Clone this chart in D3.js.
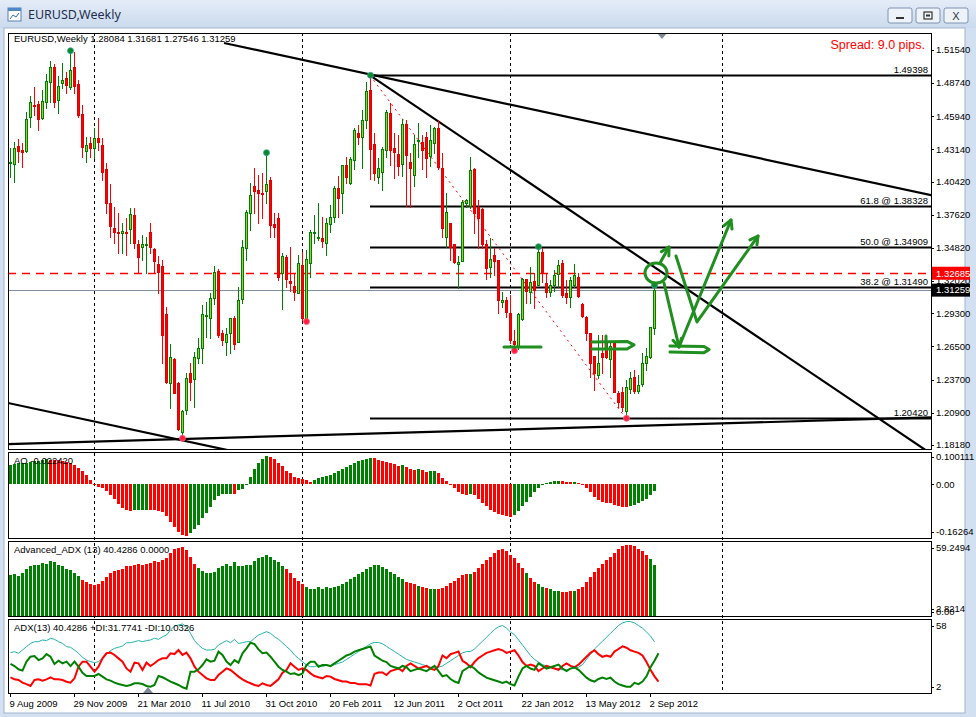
<!DOCTYPE html>
<html><head><meta charset="utf-8">
<script src="https://cdn.jsdelivr.net/npm/d3@7"></script>
<style>
body{margin:0;background:#fff;}
svg{display:block;}
text{font-family:"Liberation Sans",Arial,sans-serif;}
</style></head>
<body><svg id="c" width="976" height="717"></svg>
<script>
// ---------------- DATA ----------------
const openP=[1.4197,1.4191,1.4343,1.4309,1.4304,1.4591,1.4690,1.4695,1.4583,1.4712,1.4887,1.5008,1.4732,1.4872,1.4915,1.4844,1.5008,1.4867,1.4613,1.4304,1.4366,1.4324,1.4408,1.4352,1.4146,1.3859,1.3648,1.3620,1.3606,1.3614,1.3640,1.3760,1.3513,1.3491,1.3504,1.3620,1.3470,1.3347,1.3330,1.2924,1.2339,1.2541,1.2344,1.1932,1.2114,1.2423,1.2372,1.2550,1.2634,1.2907,1.2888,1.3057,1.3290,1.2761,1.2691,1.2761,1.2893,1.2691,1.3048,1.3479,1.3780,1.4006,1.3972,1.3945,1.3966,1.4056,1.3684,1.3732,1.3268,1.3409,1.3206,1.3161,1.3105,1.3338,1.2874,1.3358,1.3611,1.3572,1.3563,1.3521,1.3684,1.3740,1.3986,1.3950,1.4183,1.4034,1.4225,1.4450,1.4416,1.4563,1.4816,1.4360,1.4084,1.4126,1.4309,1.4619,1.4324,1.4275,1.4191,1.4529,1.4211,1.4098,1.4388,1.4380,1.4416,1.4259,1.4372,1.4493,1.4155,1.3578,1.3690,1.3515,1.3347,1.3375,1.3859,1.3836,1.4146,1.3826,1.3808,1.3515,1.3318,1.3424,1.3380,1.3028,1.3043,1.2935,1.2696,1.2649,1.2879,1.3217,1.3113,1.3206,1.3169,1.3451,1.3189,1.3113,1.3169,1.3262,1.3358,1.3099,1.3065,1.3169,1.3240,1.3009,1.2902,1.2761,1.2570,1.2409,1.2592,1.2677,1.2542,1.2677,1.2260,1.2268,1.2108,1.2288,1.2395,1.2277,1.2333,1.2508,1.2564,1.28084];
const highP=[1.4324,1.4374,1.4402,1.4366,1.4633,1.4765,1.4844,1.4726,1.4816,1.4951,1.5061,1.5036,1.4934,1.5047,1.4971,1.5148,1.5140,1.4901,1.4690,1.4416,1.4422,1.4493,1.4577,1.4408,1.4202,1.4022,1.3831,1.3780,1.3696,1.3732,1.3817,1.3822,1.3549,1.3592,1.3578,1.3696,1.3479,1.3414,1.3380,1.2986,1.2671,1.2550,1.2353,1.2114,1.2423,1.2513,1.2606,1.2719,1.3000,1.3028,1.3099,1.3330,1.3302,1.2789,1.2803,1.2893,1.2907,1.3149,1.3549,1.3803,1.4028,1.4154,1.4098,1.4112,1.4287,1.4084,1.3775,1.3780,1.3437,1.3423,1.3493,1.3268,1.3423,1.3451,1.3465,1.3634,1.3761,1.3859,1.3741,1.3732,1.3845,1.4005,1.4090,1.4183,1.4253,1.4253,1.4493,1.4521,1.4647,1.4887,1.4940,1.4450,1.4239,1.4338,1.4647,1.4704,1.4450,1.4436,1.4568,1.4563,1.4281,1.4436,1.4535,1.4436,1.4464,1.4521,1.4507,1.4563,1.4281,1.3943,1.3690,1.3515,1.3414,1.3887,1.3893,1.4247,1.4155,1.3887,1.3817,1.3549,1.3563,1.3479,1.3380,1.3113,1.3071,1.3085,1.2789,1.2930,1.3226,1.3217,1.3318,1.3268,1.3493,1.3479,1.3268,1.3212,1.3296,1.3380,1.3380,1.3212,1.3234,1.3346,1.3268,1.3020,1.2907,1.2761,1.2570,1.2747,1.2747,1.2747,1.2677,1.2682,1.2277,1.2311,1.2367,1.2437,1.2451,1.2409,1.2592,1.2634,1.2817,1.31681];
const lowP=[1.4084,1.4042,1.4211,1.4169,1.4295,1.4507,1.4605,1.4478,1.4568,1.4661,1.4718,1.4675,1.4625,1.4830,1.4788,1.4822,1.4788,1.4585,1.4253,1.4211,1.4253,1.4239,1.4309,1.4056,1.3775,1.3578,1.3521,1.3437,1.3437,1.3423,1.3521,1.3479,1.3268,1.3380,1.3268,1.3437,1.3268,1.3099,1.2513,1.2339,1.2128,1.2254,1.1945,1.1874,1.2080,1.2198,1.2142,1.2508,1.2513,1.2733,1.2719,1.3009,1.2733,1.2663,1.2578,1.2592,1.2626,1.2691,1.3015,1.3381,1.3634,1.3775,1.3690,1.3732,1.3859,1.3578,1.3578,1.3212,1.2964,1.3155,1.3122,1.3043,1.3099,1.2874,1.2860,1.3240,1.3527,1.3550,1.3493,1.3423,1.3620,1.3704,1.3746,1.3780,1.4028,1.4022,1.4146,1.4360,1.4155,1.4493,1.4062,1.4056,1.4034,1.3972,1.4253,1.4183,1.4070,1.4098,1.4090,1.3836,1.3831,1.4006,1.4253,1.4146,1.4084,1.4174,1.4281,1.4146,1.3578,1.3493,1.3380,1.3352,1.3141,1.3375,1.3831,1.3817,1.3606,1.3479,1.3479,1.3217,1.3240,1.3254,1.2935,1.2986,1.2896,1.2677,1.2615,1.2626,1.2874,1.3015,1.3015,1.2972,1.3169,1.3197,1.3071,1.3077,1.3122,1.3155,1.3071,1.3015,1.2986,1.3155,1.3071,1.2902,1.2705,1.2390,1.2282,1.2381,1.2423,1.2550,1.2395,1.2268,1.2142,1.2108,1.2043,1.2254,1.2254,1.2260,1.2316,1.2451,1.2550,1.27546];
const closeP=[1.4205,1.4324,1.4301,1.4290,1.4568,1.4712,1.4684,1.4568,1.4726,1.4895,1.5008,1.4718,1.4850,1.4900,1.4858,1.4985,1.4853,1.4605,1.4332,1.4352,1.4324,1.4408,1.4380,1.4126,1.3859,1.3668,1.3620,1.3606,1.3625,1.3610,1.3769,1.3521,1.3403,1.3513,1.3518,1.3493,1.3375,1.3282,1.2747,1.2353,1.2564,1.2260,1.1950,1.2108,1.2381,1.2353,1.2558,1.2634,1.2924,1.2916,1.3057,1.3282,1.2747,1.2705,1.2752,1.2888,1.2671,1.3043,1.3487,1.3789,1.3929,1.3966,1.3950,1.3940,1.4022,1.3676,1.3662,1.3234,1.3414,1.3217,1.3184,1.3113,1.3352,1.2888,1.3386,1.3620,1.3617,1.3578,1.3541,1.3690,1.3746,1.3986,1.3901,1.4183,1.4084,1.4231,1.4478,1.4422,1.4563,1.4808,1.4315,1.4112,1.4155,1.4315,1.4633,1.4309,1.4296,1.4174,1.4529,1.4267,1.4155,1.4360,1.4394,1.4309,1.4239,1.4394,1.4493,1.4163,1.3648,1.3789,1.3493,1.3366,1.3366,1.3873,1.3887,1.4140,1.3775,1.3733,1.3515,1.3310,1.3386,1.3375,1.3043,1.3043,1.2944,1.2705,1.2671,1.2924,1.3217,1.3121,1.3197,1.3127,1.3451,1.3268,1.3113,1.3169,1.3254,1.3338,1.3085,1.3071,1.3212,1.3254,1.3077,1.2907,1.2766,1.2508,1.2423,1.2513,1.2564,1.2564,1.2654,1.2268,1.2184,1.2142,1.2311,1.2381,1.2277,1.2325,1.2508,1.2570,1.2817,1.31259];

const aoValues=[0.062,0.064,0.066,0.067,0.069,0.072,0.074,0.075,0.077,0.079,0.078,0.077,0.076,0.074,0.071,0.066,0.061,0.053,0.043,0.031,0.014,-0.001,-0.008,-0.013,-0.020,-0.034,-0.048,-0.062,-0.074,-0.081,-0.083,-0.082,-0.0815,-0.081,-0.0805,-0.0815,-0.0825,-0.0835,-0.088,-0.100,-0.120,-0.136,-0.150,-0.160,-0.1626,-0.155,-0.142,-0.128,-0.108,-0.090,-0.071,-0.050,-0.037,-0.031,-0.0305,-0.030,-0.031,-0.018,-0.016,-0.002,0.024,0.047,0.066,0.079,0.090,0.087,0.079,0.069,0.058,0.043,0.035,0.024,0.019,0.016,0.014,0.008,0.014,0.019,0.022,0.026,0.030,0.035,0.042,0.050,0.056,0.062,0.068,0.073,0.077,0.081,0.084,0.082,0.078,0.074,0.072,0.068,0.064,0.058,0.060,0.055,0.048,0.046,0.048,0.044,0.040,0.041,0.043,0.036,0.020,0.012,0.002,-0.012,-0.025,-0.030,-0.034,-0.030,-0.035,-0.045,-0.058,-0.070,-0.080,-0.088,-0.094,-0.098,-0.100,-0.102,-0.096,-0.085,-0.070,-0.055,-0.040,-0.025,-0.012,-0.002,0.004,0.008,0.010,0.012,0.011,0.008,0.007,0.008,0.004,-0.002,-0.012,-0.025,-0.040,-0.050,-0.055,-0.058,-0.060,-0.065,-0.070,-0.072,-0.072,-0.068,-0.065,-0.060,-0.052,-0.045,-0.035,-0.0224];

const adxValues=[32.2,32.9,31.7,34.2,36.8,39.3,40.6,40.6,41.9,41.4,43.2,42.4,40.6,39.3,36.8,36.3,34.2,31.7,28.6,26.5,25.3,24.5,25.3,27.8,31.1,33.7,35.5,36.3,37.3,39.8,39.8,40.6,41.4,40.6,41.4,41.9,43.2,42.4,44.4,45.7,49.6,52.6,53.4,54.2,52.1,47.0,41.4,38.1,35.5,34.2,34.2,34.7,38.1,39.8,41.4,39.8,42.4,39.3,39.8,40.6,40.6,43.2,45.7,47.0,48.3,47.0,44.4,42.4,39.8,36.8,34.2,30.4,27.8,25.3,22.7,21.4,21.4,22.7,21.4,22.7,21.9,23,24,25,27,29,31,33,35,37,39,40,40,39,37,35,33,31,29,27,26,25,24,23,22,21,21,21,22,24,26,28,30,32,33,33,35,38,41,44,47,50,52,53,51,48,46,42,38,34,30,27,25,23,22,21,20,20,19,19,20,20,21,23,27,31,35,38,41,44,47,50,53,55,56,56,55,53,51,48,45,40.4286];
const plusDI=[23.5,21.9,19.4,18.4,25.3,29.1,29.6,26.5,27.8,31.1,29.1,23.5,26.0,24.0,25.3,21.9,25.3,21.4,16.8,14.3,14.3,14.3,15.8,13.8,11.7,10.7,9.2,8.1,7.4,6.6,7.4,8.7,8.7,8.1,6.6,6.1,7.4,14.3,13.3,11.7,9.9,8.7,7.4,5.6,4.6,17.6,17.6,19.4,22.7,27.1,25.3,26.0,32.9,30.4,25.3,22.7,26.5,24.5,31.7,35.5,39.8,38.8,34.7,31.7,32.2,29.1,25.3,21.4,18.9,17.6,15.8,16.3,15.0,16.3,22.7,25.3,25.3,21.4,22.7,22.7,21.9,24,26,28,30,31,33,34,35,36,37,30,28,26,25,22,21,20,22,21,18,19,20,19,18,20,22,18,14,15,12,10,9,18,20,22,20,17,15,13,12,11,10,9,10,8,7,14,20,22,20,19,24,22,20,21,22,23,20,18,20,21,19,16,13,11,10,12,13,12,13,10,8,7,6,6,9,8,10,14,21,26,31.7741];
const minusDI=[13.3,11.7,11.2,9.2,8.1,6.6,11.2,11.7,10.7,11.7,13.3,11.7,11.7,11.2,9.9,9.2,12.5,21.4,25.3,25.3,21.4,17.6,21.4,27.8,31.7,32.2,30.4,27.8,25.3,20.1,17.6,24.5,24.0,18.9,24.5,21.9,24.0,26.5,27.8,27.8,31.7,31.1,34.2,30.4,32.2,27.8,21.4,17.6,15.0,12.5,11.2,11.2,15.0,17.6,20.1,18.9,16.3,13.8,11.7,9.9,8.7,7.4,6.6,8.7,7.4,6.6,9.2,11.7,16.8,18.9,24.0,21.4,18.9,20.1,18.9,16.3,14.3,13.3,12.5,14.3,13.8,12,11,10,10,9,9,8,8,8,7,16,17,17,15,18,19,20,18,22,24,22,20,21,22,20,19,22,30,28,31,32,33,26,24,21,25,28,30,32,33,34,35,34,32,33,34,30,25,22,23,22,18,20,22,21,20,19,22,24,22,21,23,26,29,32,34,31,29,30,29,33,35,37,36,34,33,32,30,25,19,14,10.0326];

const dateLabels=["9 Aug 2009","29 Nov 2009","21 Mar 2010","11 Jul 2010","31 Oct 2010","20 Feb 2011","12 Jun 2011","2 Oct 2011","22 Jan 2012","13 May 2012","2 Sep 2012"];
const dateLabelBars=[0,16,32,48,64,80,96,112,128,144,160];
const yearStartBars=[21,73,125,178];
const priceTicks=[1.5154,1.4874,1.4594,1.4314,1.4042,1.3762,1.3482,1.3202,1.2930,1.2650,1.2370,1.2090,1.1818];
const fiboLevels=[1.49398,1.38328,1.34909,1.31490,1.20420];
const fiboLabels=["1.49398","61.8 @ 1.38328","50.0 @ 1.34909","38.2 @ 1.31490","1.20420"];
const fiboStartBar=90;
// trend lines: [bar1, price1, bar2, price2]
const trendLines=[[53.5,1.5213,231.25,1.3921],[90,1.4940,163.25,1.3271],[-0.5,1.2173,40.75,1.1874],[-0.5,1.1826,163.25,1.1986]];
const fiboTrend=[90,1.49398,154,1.20420];
const topMarks=[15,64,90,132,161];
const bottomMarks=[43,74,126,154];
const askPrice=1.32685, bidPrice=1.31259;

// hand drawn annotations (bar, price)
const annLines=[
 [[123.5,1.2646],[132.75,1.2646]],
 [[145.5,1.2688],[154.25,1.2693],[156,1.2663],[154.25,1.2629],[145.5,1.2629]],
 [[149,1.2739],[149,1.2629]],
 [[163.5,1.3186],[167.25,1.2646]],
 [[165,1.2654],[173.5,1.2650],[174.8,1.2625],[173.5,1.2598],[165,1.2604]],
 [[167.25,1.2646],[180.25,1.3718]],
 [[166.5,1.3414],[171.75,1.2857],[187,1.3583]],
 [[162.5,1.3355],[164.75,1.3490]]
];
const annArrows=[[[162.5,1.3355],[164.75,1.3490]],[[163.5,1.3186],[167.25,1.2646]],[[167.25,1.2646],[180.25,1.3718]],[[171.75,1.2857],[187,1.3583]]];
const annCircle=[161.5,1.3271];

// ---------------- DRAW ----------------
const svg=d3.select("#c");
const L=8,R=931;
const x=d3.scaleLinear().domain([0,161]).range([10,654]);
const yP=d3.scaleLinear().domain([1.1818,1.5154]).range([445,50]);
const yAO=d3.scaleLinear().domain([-0.16264,0.100111]).range([535.7,452.7]);
const yH=d3.scaleLinear().domain([0,59.2494]).range([616,541]);
const yL=d3.scaleLinear().domain([2,58]).range([692,619]);
const panels=[{t:33,b:449},{t:452,b:538},{t:541,b:616},{t:619,b:693}];

// window chrome
const defs=svg.append("defs");
const tg=defs.append("linearGradient").attr("id","tb").attr("x1",0).attr("y1",0).attr("x2",0).attr("y2",1);
tg.append("stop").attr("offset",0).attr("stop-color","#e4ecf7");
tg.append("stop").attr("offset",1).attr("stop-color","#cbdaee");
svg.append("rect").attr("width",976).attr("height",717).attr("fill","#d3e0f1");
svg.append("rect").attr("width",976).attr("height",28).attr("fill","url(#tb)");
svg.append("rect").attr("x",4).attr("y",28).attr("width",961).attr("height",685).attr("fill","#fff").attr("stroke","#9fb3cf");
// icon
const ic=svg.append("g").attr("transform","translate(8,8)");
ic.append("rect").attr("width",13).attr("height",13).attr("fill","#fff").attr("stroke","#5a7fb5");
ic.append("rect").attr("width",13).attr("height",3).attr("fill","#4f86c6");
ic.append("path").attr("d","M2,11 L5,7 L8,9 L11,5").attr("stroke","#2a6db5").attr("fill","none");
svg.append("text").attr("x",28).attr("y",19).attr("font-size",12.5).attr("fill","#1e3050").style("font-family","'Noto Sans','DejaVu Sans',sans-serif").text("EURUSD,Weekly");
const bx=[888,916,944];
bx.forEach((b,k)=>{
  const g=svg.append("g").attr("transform",`translate(${b},8)`);
  g.append("rect").attr("width",24).attr("height",15).attr("rx",2).attr("fill","#eef3fa").attr("stroke","#7f93b0");
  if(k===0) g.append("rect").attr("x",8).attr("y",9).attr("width",8).attr("height",2).attr("fill","#333");
  if(k===1){g.append("rect").attr("x",8).attr("y",4).attr("width",8).attr("height",7).attr("fill","none").attr("stroke","#333").attr("stroke-width",1.2);g.append("rect").attr("x",10).attr("y",6.5).attr("width",4).attr("height",2).attr("fill","#333");}
  if(k===2) g.append("text").attr("x",12).attr("y",12).attr("text-anchor","middle").attr("font-size",11).attr("fill","#333").text("X");
});

// clip paths
panels.forEach((p,k)=>{
  defs.append("clipPath").attr("id","cp"+k).append("rect").attr("x",L).attr("y",p.t).attr("width",R-L).attr("height",p.b-p.t);
});

// year separators (behind)
yearStartBars.forEach(b=>{
  const xx=Math.round(x(b))+0.5;
  svg.append("line").attr("x1",xx).attr("x2",xx).attr("y1",33).attr("y2",693).attr("stroke","#000").attr("stroke-dasharray","3,3");
});

// ---- main panel ----
const gm=svg.append("g").attr("clip-path","url(#cp0)");
gm.append("line").attr("x1",L).attr("x2",R).attr("y1",Math.round(yP(bidPrice))+0.5).attr("y2",Math.round(yP(bidPrice))+0.5).attr("stroke","#8090a0");
gm.append("line").attr("x1",L).attr("x2",R).attr("y1",Math.round(yP(askPrice))+0.5).attr("y2",Math.round(yP(askPrice))+0.5).attr("stroke","#ff0000").attr("stroke-width",1.3).attr("stroke-dasharray","8,6");
fiboLevels.forEach((lv,k)=>{
  const yy=Math.round(yP(lv))+0.5;
  gm.append("line").attr("x1",x(fiboStartBar)).attr("x2",R).attr("y1",yy).attr("y2",yy).attr("stroke","#000").attr("stroke-width",2);
  gm.append("text").attr("x",R-3).attr("y",yy-3).attr("text-anchor","end").attr("font-size",9.5).text(fiboLabels[k]);
});
gm.append("line").attr("x1",x(fiboTrend[0])).attr("y1",yP(fiboTrend[1])).attr("x2",x(fiboTrend[2])).attr("y2",yP(fiboTrend[3]))
  .attr("stroke","#ff0000").attr("stroke-dasharray","2,4").attr("stroke-width",1);
trendLines.forEach(t=>{
  const x1=x(t[0]),y1=yP(t[1]),x2=x(t[2]),y2=yP(t[3]);
  const s=(y2-y1)/(x2-x1);
  const xe=R+50;
  gm.append("line").attr("x1",x1).attr("y1",y1).attr("x2",xe).attr("y2",y1+s*(xe-x1)).attr("stroke","#000").attr("stroke-width",2.2);
});
const idx=d3.range(openP.length);
const cg=gm.append("g").attr("shape-rendering","crispEdges");
idx.forEach(i=>{
  const up=closeP[i]>=openP[i];
  const cx=Math.round(x(i));
  cg.append("line").attr("x1",cx+0.5).attr("x2",cx+0.5).attr("y1",Math.round(yP(highP[i]))).attr("y2",Math.round(yP(lowP[i]))+1)
    .attr("stroke",up?"#008000":"#ff0000");
  const t=Math.round(yP(Math.max(openP[i],closeP[i]))), b=Math.round(yP(Math.min(openP[i],closeP[i])));
  cg.append("rect").attr("x",cx-0.5).attr("y",t+0.5).attr("width",2).attr("height",Math.max(b-t,1))
    .attr("fill",up?"#9acd32":"#ff0000").attr("stroke",up?"#008000":"#e00000");
});
topMarks.forEach(i=>gm.append("circle").attr("cx",x(i)+0.5).attr("cy",yP(highP[i])).attr("r",3).attr("fill","#0a8a2a").attr("stroke","#3aa0a0").attr("stroke-width",0.8));
bottomMarks.forEach(i=>gm.append("circle").attr("cx",x(i)+0.5).attr("cy",yP(lowP[i])).attr("r",3).attr("fill","#ff2040").attr("stroke","#ff6080").attr("stroke-width",0.8));
const ga=gm.append("g").attr("stroke","#1f8f1f").attr("stroke-width",3).attr("fill","none").attr("stroke-linecap","round").attr("stroke-linejoin","round");
const ln=d3.line().x(d=>x(d[0])).y(d=>yP(d[1]));
annLines.forEach(a=>ga.append("path").attr("d",ln(a)));
ga.append("ellipse").attr("cx",x(annCircle[0])).attr("cy",yP(annCircle[1])).attr("rx",11).attr("ry",10);
annArrows.forEach(a=>{
  const p1=[x(a[0][0]),yP(a[0][1])],p2=[x(a[1][0]),yP(a[1][1])];
  const ang=Math.atan2(p2[1]-p1[1],p2[0]-p1[0]);
  const h=9,w=0.5;
  ga.append("path").attr("d",`M${p2[0]-h*Math.cos(ang-w)},${p2[1]-h*Math.sin(ang-w)} L${p2[0]},${p2[1]} L${p2[0]-h*Math.cos(ang+w)},${p2[1]-h*Math.sin(ang+w)}`);
});

svg.append("text").attr("x",14).attr("y",42).attr("font-size",9.5).text("EURUSD,Weekly  1.28084 1.31681 1.27546 1.31259");
svg.append("text").attr("x",925).attr("y",49).attr("text-anchor","end").attr("font-size",12.5).attr("fill","#ff0000").text("Spread: 9.0 pips.");
svg.append("path").attr("d","M657,33 L667,33 L662,39 Z").attr("fill","#7f8a96");
svg.append("path").attr("d","M143,693 L153,693 L148,687 Z").attr("fill","#7f8a96");

// ---- AO ----
const gao=svg.append("g").attr("clip-path","url(#cp1)").attr("shape-rendering","crispEdges");
idx.forEach(i=>{
  const v=aoValues[i]; const up=i===0?true:v>aoValues[i-1];
  const y0=yAO(0), y1=yAO(v);
  gao.append("rect").attr("x",Math.round(x(i))-1).attr("width",3).attr("y",Math.min(y0,y1)).attr("height",Math.max(Math.abs(y1-y0),1)).attr("fill",up?"#008000":"#ff0000");
});
svg.append("text").attr("x",14).attr("y",464).attr("font-size",9.5).text("AO -0.022420");

// ---- Advanced ADX hist ----
const gh=svg.append("g").attr("clip-path","url(#cp2)").attr("shape-rendering","crispEdges");
idx.forEach(i=>{
  const g=plusDI[i]>=minusDI[i];
  gh.append("rect").attr("x",Math.round(x(i))-1).attr("width",3).attr("y",yH(adxValues[i])).attr("height",yH(0)-yH(adxValues[i])).attr("fill",g?"#008000":"#ff0000");
});
svg.append("text").attr("x",14).attr("y",553).attr("font-size",9.5).text("Advanced_ADX (13) 40.4286 0.0000");

// ---- ADX lines ----
const gl=svg.append("g").attr("clip-path","url(#cp3)");
const lineFn=arr=>d3.line().x((d,i)=>x(i)+0.5).y(d=>yL(d))(arr);
gl.append("path").attr("d",lineFn(adxValues)).attr("fill","none").attr("stroke","#20b2aa").attr("stroke-width",1);
gl.append("path").attr("d",lineFn(minusDI)).attr("fill","none").attr("stroke","#ff0000").attr("stroke-width",2);
gl.append("path").attr("d",lineFn(plusDI)).attr("fill","none").attr("stroke","#008000").attr("stroke-width",2);
svg.append("text").attr("x",14).attr("y",631).attr("font-size",9.5).text("ADX(13) 40.4286 +DI:31.7741 -DI:10.0326");

panels.forEach(p=>svg.append("rect").attr("x",L+0.5).attr("y",p.t+0.5).attr("width",R-L).attr("height",p.b-p.t).attr("fill","none").attr("stroke","#000"));

const ax=svg.append("g").attr("font-size",9.5);
function rlabel(y,t,opt={}){
  ax.append("line").attr("x1",R).attr("x2",R+3).attr("y1",Math.round(y)+0.5).attr("y2",Math.round(y)+0.5).attr("stroke","#000");
  if(opt.bg){ax.append("rect").attr("x",R+1).attr("y",y-6.5).attr("width",38).attr("height",13).attr("fill",opt.bg);}
  ax.append("text").attr("x",R+5).attr("y",y).attr("dy","0.35em").attr("fill",opt.fg||"#000").text(t);
}
priceTicks.forEach(p=>rlabel(yP(p),p.toFixed(5)));
rlabel(yP(askPrice),askPrice.toFixed(5),{bg:"#ff0000",fg:"#fff"});
rlabel(yP(bidPrice),bidPrice.toFixed(5),{bg:"#000",fg:"#fff"});
rlabel(457,"0.100111"); rlabel(yAO(0),"0.00"); rlabel(532,"-0.16264");
rlabel(548,"59.2494"); rlabel(609,"2.8214"); rlabel(612,"0.00");
rlabel(626,"58"); rlabel(687,"2");

const xa=svg.append("g").attr("font-size",9.5);
dateLabelBars.forEach((b,k)=>{
  const xx=Math.round(x(b))+0.5;
  xa.append("line").attr("x1",xx).attr("x2",xx).attr("y1",693).attr("y2",697).attr("stroke","#000");
  xa.append("text").attr("x",xx-1).attr("y",707).text(dateLabels[k]);
});
</script></body></html>
